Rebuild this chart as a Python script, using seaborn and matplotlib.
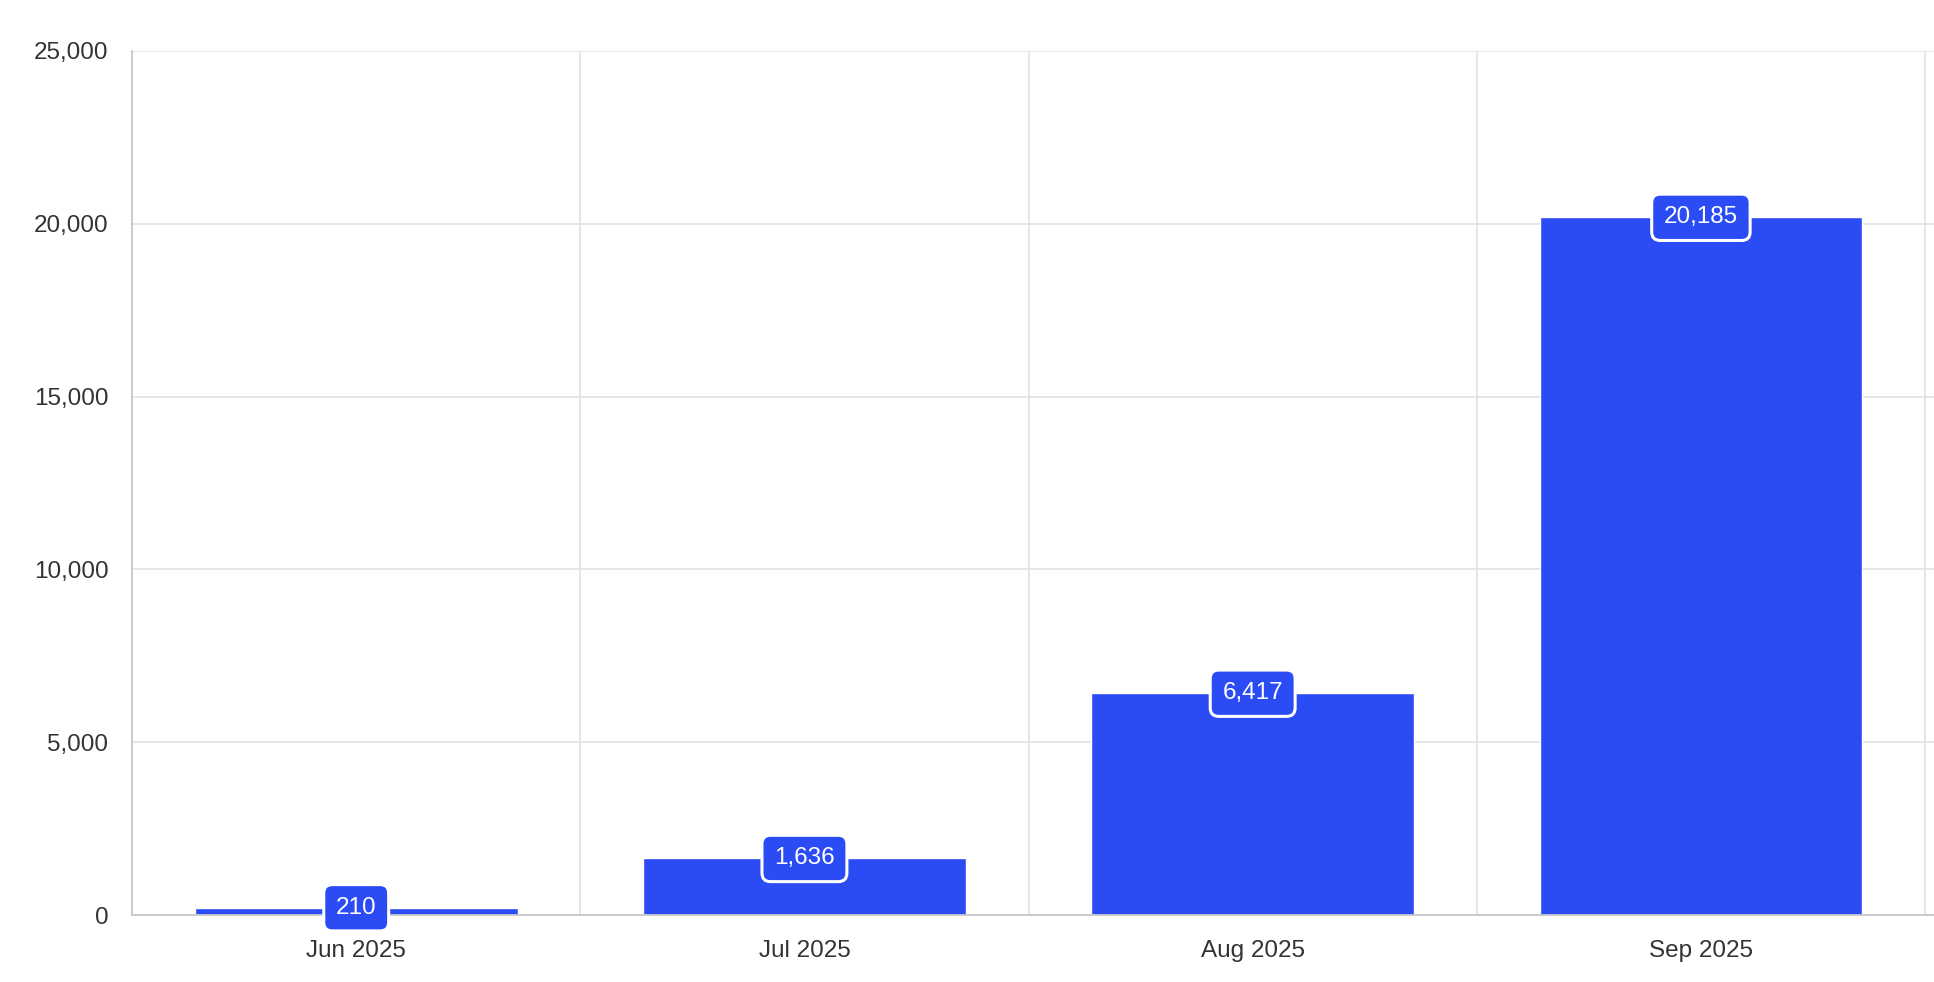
import matplotlib.pyplot as plt
import seaborn as sns
import pandas as pd
from matplotlib.ticker import FuncFormatter, FixedLocator

# Monthly values
months = ["Jun 2025", "Jul 2025", "Aug 2025", "Sep 2025"]
counts = [210, 1636, 6417, 20185]
y_ticks = [0, 5000, 10000, 15000, 20000, 25000]

BAR_COLOR = "#2B4BF5"
GRID_COLOR = "#E4E4E8"
AXIS_COLOR = "#C8C8CC"
TEXT_COLOR = "#333333"
FONT_SIZE = 17.5

sns.set_style("white")
plt.rcParams["font.family"] = ["Liberation Sans", "DejaVu Sans"]

df = pd.DataFrame({"month": months, "count": counts})

fig = plt.figure(figsize=(19.34, 9.82), dpi=100)
ax = fig.add_axes([0.0683, 0.0682, 0.9317, 0.880])

sns.barplot(data=df, x="month", y="count", color=BAR_COLOR, width=0.72,
            saturation=1, ax=ax, zorder=2)

ax.set_xlim(-0.5, 3.52)
ax.set_ylim(0, 25000)
ax.yaxis.set_major_locator(FixedLocator(y_ticks))
ax.yaxis.set_major_formatter(FuncFormatter(lambda v, _: f"{int(v):,}"))

# category boundaries as minor ticks / vertical grid
ax.xaxis.set_minor_locator(FixedLocator([-0.5, 0.5, 1.5, 2.5, 3.5]))
ax.grid(axis="y", which="major", color=GRID_COLOR, linewidth=1.3, zorder=0)
ax.grid(axis="x", which="minor", color=GRID_COLOR, linewidth=1.3, zorder=0)
ax.grid(axis="x", which="major", visible=False)

ax.tick_params(axis="x", which="major", length=0, pad=18, labelsize=FONT_SIZE,
               labelcolor=TEXT_COLOR)
ax.tick_params(axis="x", which="minor", length=7, color=GRID_COLOR, width=1.2,
               direction="out")
ax.tick_params(axis="y", length=6, color=GRID_COLOR, width=1.5, pad=11,
               labelsize=FONT_SIZE, labelcolor=TEXT_COLOR)

for side in ["top", "right"]:
    ax.spines[side].set_visible(False)
for side in ["left", "bottom"]:
    ax.spines[side].set_color(AXIS_COLOR)
    ax.spines[side].set_linewidth(1.3)

ax.set_xlabel("")
ax.set_ylabel("")

# value badges centred on the top of each bar
for i, v in enumerate(counts):
    ax.text(i, v, f"{v:,}", ha="center", va="center", color="white",
            fontsize=FONT_SIZE, zorder=5,
            bbox=dict(boxstyle="round,pad=0.5,rounding_size=0.35",
                      facecolor=BAR_COLOR, edgecolor="white", linewidth=2.2))

plt.savefig("out.png", dpi=100)
plt.close()
